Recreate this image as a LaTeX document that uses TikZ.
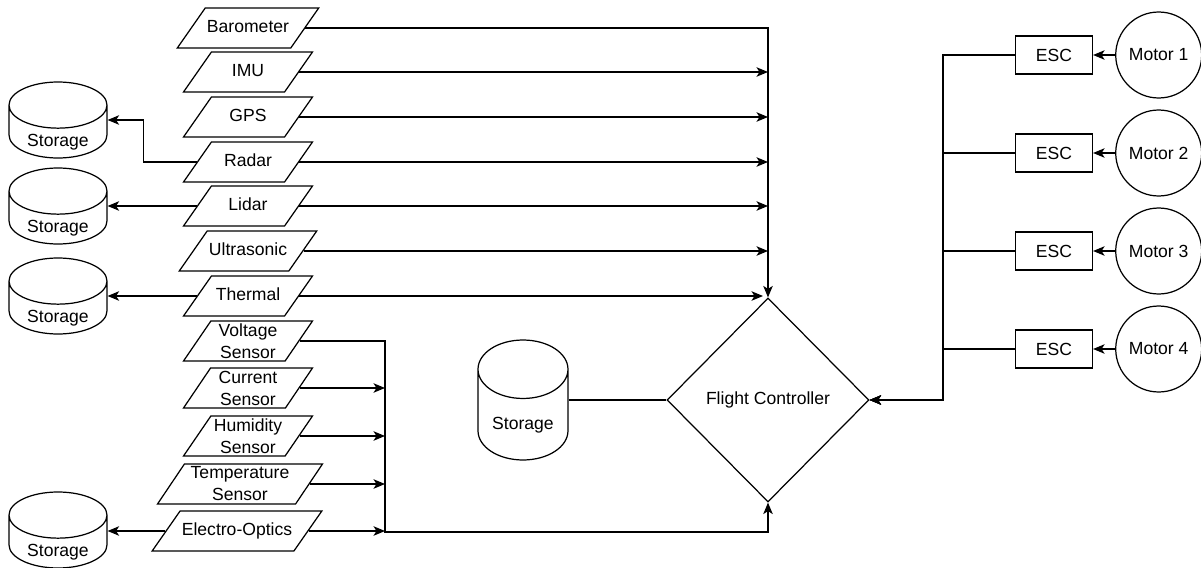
\documentclass[tikz,border=0pt]{standalone}
\usepackage{fontspec}
\setmainfont{Liberation Sans}
\usetikzlibrary{positioning,shapes.geometric,arrows.meta}
\newcommand{\lowered}[1]{\raisebox{-0.3cm}[0pt][0pt]{#1}}

\begin{document}
\begin{tikzpicture}[
x=0.02cm, y=-0.02cm,
every node/.style={font=\fontsize{10}{12.5}\selectfont, line width=0.7pt},
sensorbox/.style={draw, trapezium, trapezium left angle=55, trapezium right angle=125,
  trapezium stretches body, minimum width=2.58cm, minimum height=0.8cm,
  inner xsep=1pt, align=center},
sensor/.style={sensorbox, text height=7.5pt, text depth=2.2pt, inner ysep=6.5pt},
sensortwo/.style={sensorbox, inner ysep=1.2pt},
storage/.style={draw, cylinder, shape border rotate=90, aspect=0.75,
  minimum width=1.96cm, minimum height=1.52cm, inner sep=0pt, anchor=shape center},
esc/.style={draw, rectangle, minimum width=1.54cm, minimum height=0.76cm},
motor/.style={draw, circle, minimum size=1.72cm, inner sep=0pt},
controller/.style={draw, diamond, minimum width=4.04cm, minimum height=4.08cm, inner sep=0pt},
arrow/.style={-{Stealth[length=2.3mm, width=1.9mm, inset=0.6mm]}, line width=0.7pt},
link/.style={line width=0.7pt},
]
\useasboundingbox (0,0) rectangle (1201,568);

% sensors
\node[sensor] (baro) at (248,28) {Barometer};
\node[sensor] (imu) at (248,72) {IMU};
\node[sensor] (gps) at (248,117) {GPS};
\node[sensor] (radar) at (248,162) {Radar};
\node[sensor] (lidar) at (248,206) {Lidar};
\node[sensor] (ultra) at (248,251) {Ultrasonic};
\node[sensor] (therm) at (248,296) {Thermal};
\node[sensortwo] (volt) at (248,341) {Voltage\\Sensor};
\node[sensortwo] (curr) at (248,388) {Current\\Sensor};
\node[sensortwo] (humid) at (248,436) {Humidity\\Sensor};
\node[sensortwo, minimum width=3.3cm] (temp) at (240,484) {Temperature\\Sensor};
\node[sensor, minimum width=3.32cm] (eo) at (237,531) {Electro-Optics};

% storage
\node[storage] (st1) at (58,120) {\lowered{Storage}};
\node[storage] (st2) at (58,206) {\lowered{Storage}};
\node[storage] (st3) at (58,296) {\lowered{Storage}};
\node[storage] (st4) at (58,530) {\lowered{Storage}};
\node[storage, aspect=0.95, minimum width=1.8cm, minimum height=2.4cm] (stfc) at (523,400) {\lowered{Storage}};

% controller and motors
\node[controller] (fc) at (768,400) {Flight Controller};

\node[esc] (esc1) at (1054,55) {ESC};
\node[esc] (esc2) at (1054,153) {ESC};
\node[esc] (esc3) at (1054,251) {ESC};
\node[esc] (esc4) at (1054,349) {ESC};

\node[motor] (m1) [right=0.44cm of esc1] {Motor 1};
\node[motor] (m2) [right=0.44cm of esc2] {Motor 2};
\node[motor] (m3) [right=0.44cm of esc3] {Motor 3};
\node[motor] (m4) [right=0.44cm of esc4] {Motor 4};

\coordinate (rbus) at (943,400);
\coordinate (lbus) at (385,532);

% sensor lines to the controller
\draw[arrow] (baro.east) -| (fc.north);
\draw[arrow] (imu.east) -- (imu.east -| fc.north);
\draw[arrow] (gps.east) -- (gps.east -| fc.north);
\draw[arrow] (radar.east) -- (radar.east -| fc.north);
\draw[arrow] (lidar.east) -- (lidar.east -| fc.north);
\draw[arrow] (ultra.east) -- (ultra.east -| fc.north);
\draw[arrow] (therm.east) -- ([xshift=-0.1cm]therm.east -| fc.north);

\draw[arrow] (volt.east) -| (lbus) -| (fc.south);
\draw[arrow] (curr.east) -- (curr.east -| lbus);
\draw[arrow] (humid.east) -- (humid.east -| lbus);
\draw[arrow] (temp.east) -- (temp.east -| lbus);
\draw[arrow] (eo.east) -- (eo.east -| lbus);

% sensor lines to storage
\draw[arrow] (radar.west) -- ++(-53,0) |- (st1.shape center -| st1.east);
\draw[arrow] (lidar.west) -- (lidar.west -| st2.east);
\draw[arrow] (therm.west) -- (therm.west -| st3.east);
\draw[arrow] (eo.west) -- (eo.west -| st4.east);
\draw[link] (stfc.shape center -| stfc.east) -- (fc.west);

% motors
\draw[arrow] (m1.west) -- (esc1.east);
\draw[arrow] (m2.west) -- (esc2.east);
\draw[arrow] (m3.west) -- (esc3.east);
\draw[arrow] (m4.west) -- (esc4.east);

\draw[arrow] (esc1.west) -| (rbus) -- (fc.east);
\draw[arrow] (esc2.west) -| (rbus) -- (fc.east);
\draw[arrow] (esc3.west) -| (rbus) -- (fc.east);
\draw[arrow] (esc4.west) -| (rbus) -- (fc.east);

\end{tikzpicture}
\end{document}
